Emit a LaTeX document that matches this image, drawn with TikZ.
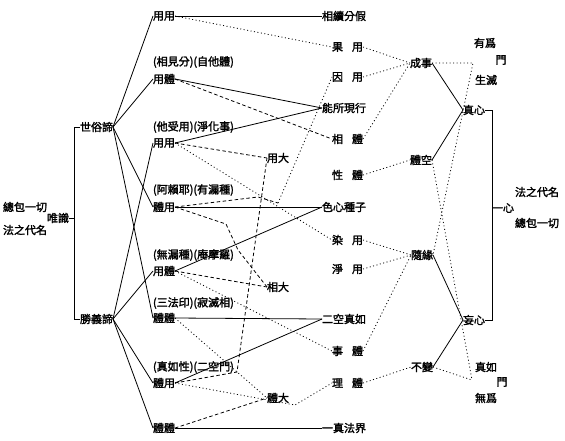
\documentclass[tikz,border=0pt]{standalone}
\usepackage{fontspec}
\newfontfamily\cjk[AutoFakeBold=2]{Noto Sans CJK TC}
\begin{document}
\begin{tikzpicture}[x=1pt,y=-1pt,
  txt/.style={font=\cjk\bfseries\fontsize{11}{12}\selectfont, inner sep=0pt, outer sep=0pt},
  ln/.style={line width=0.8pt},
  dt/.style={line width=0.8pt, dash pattern=on 1pt off 2.5pt},
  ds/.style={line width=0.8pt, dash pattern=on 3.5pt off 2.5pt}]
\useasboundingbox[fill=white] (0,0) rectangle (565,440);
% left
\node[txt] (zb1) at (25,207) {總包一切};
\node[txt] (fz1) at (25,230) {法之代名};
\node[txt] (ws) at (58,218) {唯識};
\node[txt,anchor=west] (sd) at (80,127) {世俗諦};
\node[txt,anchor=west] (sy) at (80,319) {勝義諦};
\draw[ln] (sd.west) -- ++(-6,0) coordinate (b1) -- (b1 |- sy.west) -- (sy.west);
\draw[ln] (ws.east) -- (ws.east -| b1);
% column 2
\node[txt,anchor=west] (a1) at (153,16) {用用};
\node[txt,anchor=west] (p2) at (153,62) {(相見分)(自他體)};
\node[txt,anchor=west] (a2) at (153,79) {用體};
\node[txt,anchor=west] (p3) at (153,127) {(他受用)(淨化事)};
\node[txt,anchor=west] (a3) at (153,143) {用用};
\node[txt,anchor=west] (p4) at (153,190) {(阿賴耶)(有漏種)};
\node[txt,anchor=west] (a4) at (153,207) {體用};
\node[txt,anchor=west] (p5) at (153,255) {(無漏種)(庵摩羅)};
\node[txt,anchor=west] (a5) at (153,271) {用體};
\node[txt,anchor=west] (p6) at (153,303) {(三法印)(寂滅相)};
\node[txt,anchor=west] (a6) at (153,318) {體體};
\node[txt,anchor=west] (p7) at (153,367) {(真如性)(二空門)};
\node[txt,anchor=west] (a7) at (153,383) {體用};
\node[txt,anchor=west] (a8) at (153,428) {體體};
\foreach \n in {a1,a2,a4,a6} \draw[ln] (sd.east) -- (\n.west);
\foreach \n in {a3,a5,a7,a8} \draw[ln] (sy.east) -- (\n.west);
% great nodes
\node[txt,anchor=west] (yd) at (267,158) {用大};
\node[txt,anchor=west] (xd) at (267,287) {相大};
\node[txt,anchor=west] (td) at (267,398) {體大};
% column 3
\node[txt,anchor=west] (c1) at (322,16) {相續分假};
\node[txt,anchor=west] (c2) at (332,47) {果\hspace{9pt}用};
\node[txt,anchor=west] (c3) at (332,77) {因\hspace{9pt}用};
\node[txt,anchor=west] (c4) at (322,108) {能所現行};
\node[txt,anchor=west] (c5) at (332,139) {相\hspace{9pt}體};
\node[txt,anchor=west] (c6) at (332,175) {性\hspace{9pt}體};
\node[txt,anchor=west] (c7) at (322,207) {色心種子};
\node[txt,anchor=west] (c8) at (332,240) {染\hspace{9pt}用};
\node[txt,anchor=west] (c9) at (332,269) {淨\hspace{9pt}用};
\node[txt,anchor=west] (c10) at (322,319) {二空真如};
\node[txt,anchor=west] (c11) at (332,351) {事\hspace{9pt}體};
\node[txt,anchor=west] (c12) at (332,383) {理\hspace{9pt}體};
\node[txt,anchor=west] (c13) at (322,428) {一真法界};
% solid col2 -> col3
\draw[ln] (a1.east) -- (c1.west);
\draw[ln] (a2.east) -- (c4.west);
\draw[ln] (a3.east) -- (c4.west);
\draw[ln] (a4.east) -- (c7.west);
\draw[ln] (a5.east) -- (c7.west);
\draw[ln] (a6.east) -- (c10.west);
\draw[ln] (a7.east) -- (c10.west);
\draw[ln] (a8.east) -- (c13.west);
% dotted col2 -> col3
\draw[dt] (a1.east) -- (c2.west);
\draw[ds] (a2.east) -- (c5.west);
\draw[dt] (a3.east) -- (c8.west);
\coordinate (k1) at (278,203);
\draw[ds] (a4.east) -- (258,197) -- (k1);
\draw[dt] (k1) -- (c3.west);
\draw[dt] (a5.east) -- (c11.west);
\coordinate (k2) at (295,405);
\draw[dt] (a7.east) -- (k2) -- (c12.west);
\draw[dt] (a6.east) -- (td.west);
% dashed to great nodes
\draw[ds] (a3.east) -- (yd.west);
\coordinate (k3) at (237,372);
\draw[ds] (a7.east) -- (k3) -- (yd.west);
\draw[ds] (a5.east) -- (xd.west);
\coordinate (k4) at (226,224);
\coordinate (k5) at (238,250);
\draw[ds] (a4.east) -- (k4) -- (k5) -- (xd.west);
\draw[ds] (a8.east) -- (td.west);
% column 4
\node[txt] (d1) at (421,63) {成事};
\node[txt] (d2) at (421,160) {體空};
\node[txt] (d3) at (422,255) {隨緣};
\node[txt] (d4) at (422,367) {不變};
\draw[dt] (c2.east) -- (d1.west);
\draw[dt] (c3.east) -- (d1.west);
\draw[dt] (c5.east) -- (d1.west);
\draw[dt] (c6.east) -- (d2.west);
\draw[dt] (c8.east) -- (d3.west);
\draw[dt] (c9.east) -- (d3.west);
\draw[dt] (c11.east) -- (d3.west);
\draw[dt] (c12.east) -- (d4.west);
% column 5
\node[txt] (e1) at (485,43) {有爲};
\node[txt] (m1) at (501,60) {門};
\node[txt] (e2) at (486,80) {生滅};
\node[txt] (zx) at (474,110) {真心};
\node[txt] (wx) at (474,320) {妄心};
\node[txt] (e3) at (486,367) {真如};
\node[txt] (m2) at (502,382) {門};
\node[txt] (e4) at (486,398) {無爲};
\coordinate (g1) at (473,63);
\coordinate (g2) at (472,380);
\draw[dt] (d1.east) -- (g1) -- (d3.east);
\draw[dt] (d2.east) -- (g2);
\draw[dt] (d4.east) -- (g2);
\draw[ln] (d1.east) -- (zx.west);
\draw[ln] (zx.west) -- (d2.east);
\draw[ln] (d3.east) -- (wx.west);
\draw[ln] (wx.west) -- (d4.east);
% right bracket
\node[txt] (yx) at (503,208) {一心};
\node[txt] (fz2) at (537,192) {法之代名};
\node[txt] (zb2) at (537,223) {總包一切};
\draw[ln] (zx.east) -- ++(7,0) coordinate (b2) -- (b2 |- wx.east) -- (wx.east);
\draw[ln] (yx.west) -- (yx.west -| b2);
\end{tikzpicture}
\end{document}
